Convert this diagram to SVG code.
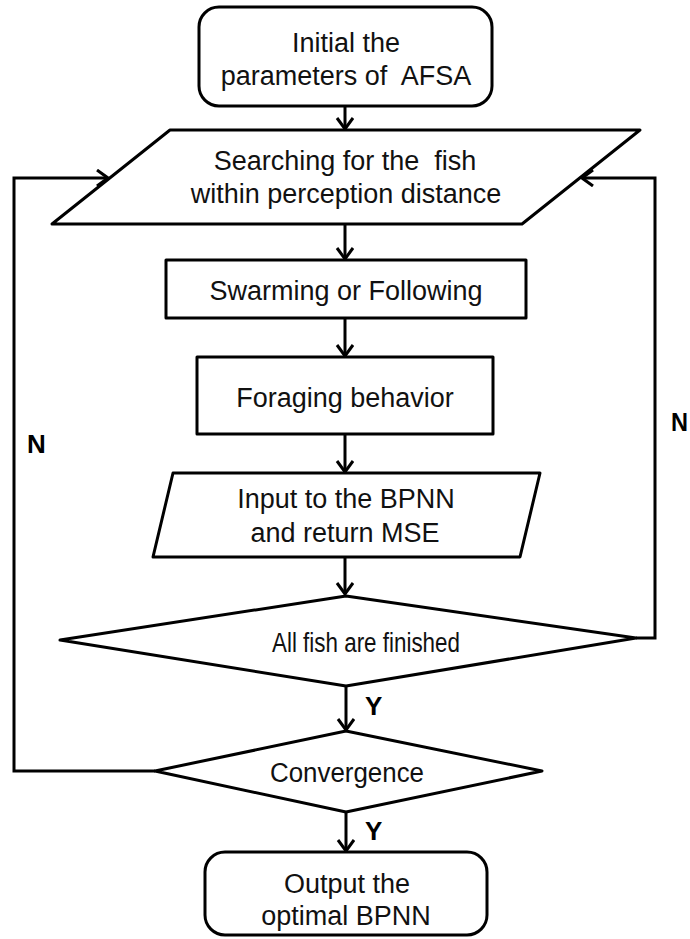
<svg xmlns="http://www.w3.org/2000/svg" width="690" height="939" viewBox="0 0 690 939">
<style>
.shape{fill:#fff;stroke:#000;stroke-width:3;stroke-linejoin:round}
.conn{fill:none;stroke:#000;stroke-width:3}
.t{font-family:"Liberation Sans",Arial,sans-serif;font-size:27px;fill:#111;text-anchor:middle;white-space:pre}
.lbl{font-family:"Liberation Sans",Arial,sans-serif;font-size:26px;font-weight:bold;fill:#000}
</style>
<defs>
<marker id="arr" markerUnits="userSpaceOnUse" markerWidth="14" markerHeight="20" refX="12" refY="9" orient="auto" viewBox="0 0 14 20">
<path d="M1,1 L12,9 L1,17" fill="none" stroke="#000" stroke-width="3"/>
</marker>
</defs>
<rect width="690" height="939" fill="#fff"/>
<g id="connectors">
<line class="conn" x1="345" y1="106" x2="345" y2="129" marker-end="url(#arr)"/>
<line class="conn" x1="345" y1="224" x2="345" y2="259" marker-end="url(#arr)"/>
<line class="conn" x1="345" y1="318" x2="345" y2="356" marker-end="url(#arr)"/>
<line class="conn" x1="345" y1="434" x2="345" y2="472" marker-end="url(#arr)"/>
<line class="conn" x1="345" y1="557" x2="345" y2="594" marker-end="url(#arr)"/>
<line class="conn" x1="346" y1="686" x2="346" y2="730" marker-end="url(#arr)"/>
<line class="conn" x1="346" y1="812" x2="346" y2="851" marker-end="url(#arr)"/>
<polyline class="conn" points="155,771 14,771 14,178 108,178" marker-end="url(#arr)"/>
<polyline class="conn" points="636,638 655,638 655,178 582,178" marker-end="url(#arr)"/>
</g>
<g id="start">
<rect class="shape" x="199" y="7" width="293" height="99" rx="20"/>
<text class="t" x="346" y="52">Initial the</text>
<text class="t" x="346" y="85">parameters of  AFSA</text>
</g>
<g id="search">
<polygon class="shape" points="170,130 640,130 522,224 52,224"/>
<text class="t" x="345" y="170">Searching for the  fish</text>
<text class="t" x="346" y="203">within perception distance</text>
</g>
<g id="swarm">
<rect class="shape" x="166" y="260" width="360" height="58"/>
<text class="t" x="346" y="300">Swarming or Following</text>
</g>
<g id="forage">
<rect class="shape" x="197" y="357" width="296" height="77"/>
<text class="t" x="345" y="407">Foraging behavior</text>
</g>
<g id="input">
<polygon class="shape" points="173,473 540,473 520,557 153,557"/>
<text class="t" x="346" y="508">Input to the BPNN</text>
<text class="t" x="345" y="542">and return MSE</text>
</g>
<g id="allfish">
<polygon class="shape" points="346,596 636,638 346,686 60,640"/>
<text class="t" x="366" y="652" textLength="188" lengthAdjust="spacingAndGlyphs">All fish are finished</text>
</g>
<g id="converge">
<polygon class="shape" points="346,731 542,771 346,812 155,771"/>
<text class="t" x="347" y="782" textLength="154" lengthAdjust="spacingAndGlyphs">Convergence</text>
</g>
<g id="output">
<rect class="shape" x="205" y="852" width="282" height="83" rx="20"/>
<text class="t" x="347" y="893">Output the</text>
<text class="t" x="346" y="925">optimal BPNN</text>
</g>
<g id="labels">
<text class="lbl" x="27" y="453">N</text>
<text class="lbl" x="671" y="431" textLength="17" lengthAdjust="spacingAndGlyphs">N</text>
<text class="lbl" x="365" y="715">Y</text>
<text class="lbl" x="365" y="840">Y</text>
</g>
</svg>
